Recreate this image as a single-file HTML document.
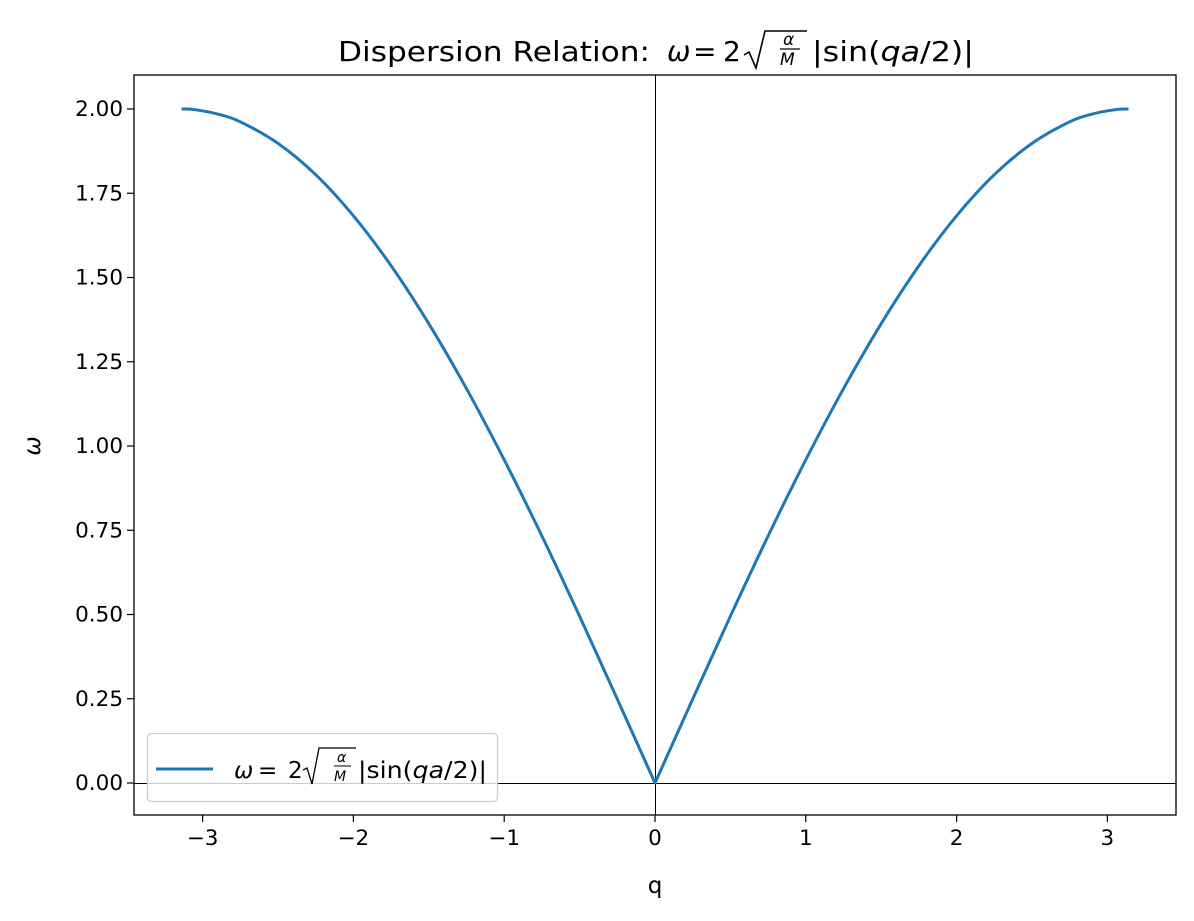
<!DOCTYPE html>
<html><head><meta charset="utf-8"><style>
body{margin:0;background:#fff}
svg text{font-family:"DejaVu Sans","Liberation Sans",sans-serif;fill:#000}
</style></head><body>
<svg width="1194" height="916" xmlns="http://www.w3.org/2000/svg">
<g id="title">
<text x="338" y="61" font-size="28" textLength="312" lengthAdjust="spacingAndGlyphs">Dispersion Relation:</text>
<text x="667" y="61" font-size="28" font-style="italic">ω</text>
<text x="693" y="61" font-size="28">=</text>
<text x="723" y="61" font-size="28">2</text>
<path d="M744,55 L749,52 L756,68 L765,31 L807,31" fill="none" stroke="#000" stroke-width="1.6"/>
<text x="783" y="45" font-size="17" font-style="italic">α</text>
<line x1="780" y1="49" x2="800" y2="49" stroke="#000" stroke-width="1.2"/>
<text x="780" y="65" font-size="17" font-style="italic">M</text>
<text x="812" y="61" font-size="28" textLength="162" lengthAdjust="spacingAndGlyphs">|sin(<tspan font-style="italic">qa</tspan>/2)|</text>
</g>
<g id="plot"></g>
<g id="legend">
<rect x="147.5" y="733.5" width="350" height="68" rx="4" fill="#fff" fill-opacity="0.8" stroke="#ccc" stroke-width="1.3"/>
<line x1="156" y1="769" x2="213" y2="769" stroke="#1f77b4" stroke-width="3"/>
<g>
<text x="234" y="778" font-size="23" font-style="italic">ω</text>
<text x="258" y="778" font-size="23">=</text>
<text x="288" y="778" font-size="23">2</text>
<path d="M303,770 L307,768 L312,784 L319,748 L356,748" fill="none" stroke="#000" stroke-width="1.3"/>
<text x="337" y="762" font-size="14" font-style="italic">α</text>
<line x1="334" y1="766" x2="351" y2="766" stroke="#000" stroke-width="1"/>
<text x="334" y="781" font-size="14" font-style="italic">M</text>
<text x="358" y="778" font-size="23" textLength="129" lengthAdjust="spacingAndGlyphs">|sin(<tspan font-style="italic">qa</tspan>/2)|</text>
</g>
</g>
</svg>
<script>
const qValues=[-3.14,-3.05,-2.9,-2.75,-2.5,-2.25,-2,-1.75,-1.5,-1.25,-1,-0.75,-0.5,-0.25,0,0.25,0.5,0.75,1,1.25,1.5,1.75,2,2.25,2.5,2.75,2.9,3.05,3.14];
const omegaValues=[2.0,1.998,1.985,1.962,1.898,1.805,1.683,1.535,1.363,1.170,0.959,0.733,0.495,0.249,0,0.249,0.495,0.733,0.959,1.170,1.363,1.535,1.683,1.805,1.898,1.962,1.985,1.998,2.0];
const xTicks=[-3,-2,-1,0,1,2,3];
const yTicks=[0,0.25,0.5,0.75,1,1.25,1.5,1.75,2];
const yTickLabels=["0.00","0.25","0.50","0.75","1.00","1.25","1.50","1.75","2.00"];
const NS="http://www.w3.org/2000/svg";
const L=134,R=1176,T=75,B=815;
const xs=v=>655+v*150.8;
const ys=v=>783-v*337;
const g=document.getElementById('plot');
function mk(t,a){const e=document.createElementNS(NS,t);for(const k in a)e.setAttribute(k,a[k]);g.appendChild(e);return e;}
let e=mk('line',{x1:L,x2:R,y1:ys(0)+0.5,y2:ys(0)+0.5,stroke:'#000','stroke-width':1});


e=mk('line',{x1:xs(0)+0.5,x2:xs(0)+0.5,y1:T,y2:B,stroke:'#000','stroke-width':1});


let pts=qValues.map((q,i)=>[xs(q),ys(omegaValues[i])]);
let d='M'+pts[0][0]+','+pts[0][1];
for(let i=0;i<pts.length-1;i++){
 const p0=pts[Math.max(0,i-1)],p1=pts[i],p2=pts[i+1],p3=pts[Math.min(pts.length-1,i+2)];
 let c1=[p1[0]+(p2[0]-p0[0])/6,p1[1]+(p2[1]-p0[1])/6],c2=[p2[0]-(p3[0]-p1[0])/6,p2[1]-(p3[1]-p1[1])/6];
 if(qValues[i]===0){c1=[p1[0]+(p2[0]-p1[0])/3,p1[1]+(p2[1]-p1[1])/3];}
 if(qValues[i+1]===0){c2=[p2[0]-(p2[0]-p1[0])/3,p2[1]-(p2[1]-p1[1])/3];}
 d+=' C'+c1[0]+','+c1[1]+' '+c2[0]+','+c2[1]+' '+p2[0]+','+p2[1];
}
e=mk('path',{d:d,fill:'none',stroke:'#1f77b4','stroke-width':3,'stroke-linejoin':'round'});


e=mk('rect',{x:L,y:T,width:R-L,height:B-T,fill:'none',stroke:'#000','stroke-width':1.3});


xTicks.forEach(v=>{
 const t=mk('line',{x1:xs(v),x2:xs(v),y1:B,y2:B+7,stroke:'#000','stroke-width':1.2});
 
 
 const l=mk('text',{x:xs(v),y:B+30,'text-anchor':'middle','font-size':21.5});
 l.textContent=(v<0?'\u2212':'')+Math.abs(v);
 
 
});
yTicks.forEach((v,i)=>{
 const t=mk('line',{x1:L-7,x2:L,y1:ys(v),y2:ys(v),stroke:'#000','stroke-width':1.2});
 
 
 const l=mk('text',{x:L-11,y:ys(v)+7,'text-anchor':'end','font-size':21.5});
 l.textContent=yTickLabels[i];
 
 
});
e=mk('text',{x:655,y:893,'text-anchor':'middle','font-size':23});
e.textContent='q';


e=mk('text',{x:40,y:446,'text-anchor':'middle','font-size':23,'font-style':'italic',transform:'rotate(-90 40 446)'});
e.textContent='ω';


</script>
</body></html>
